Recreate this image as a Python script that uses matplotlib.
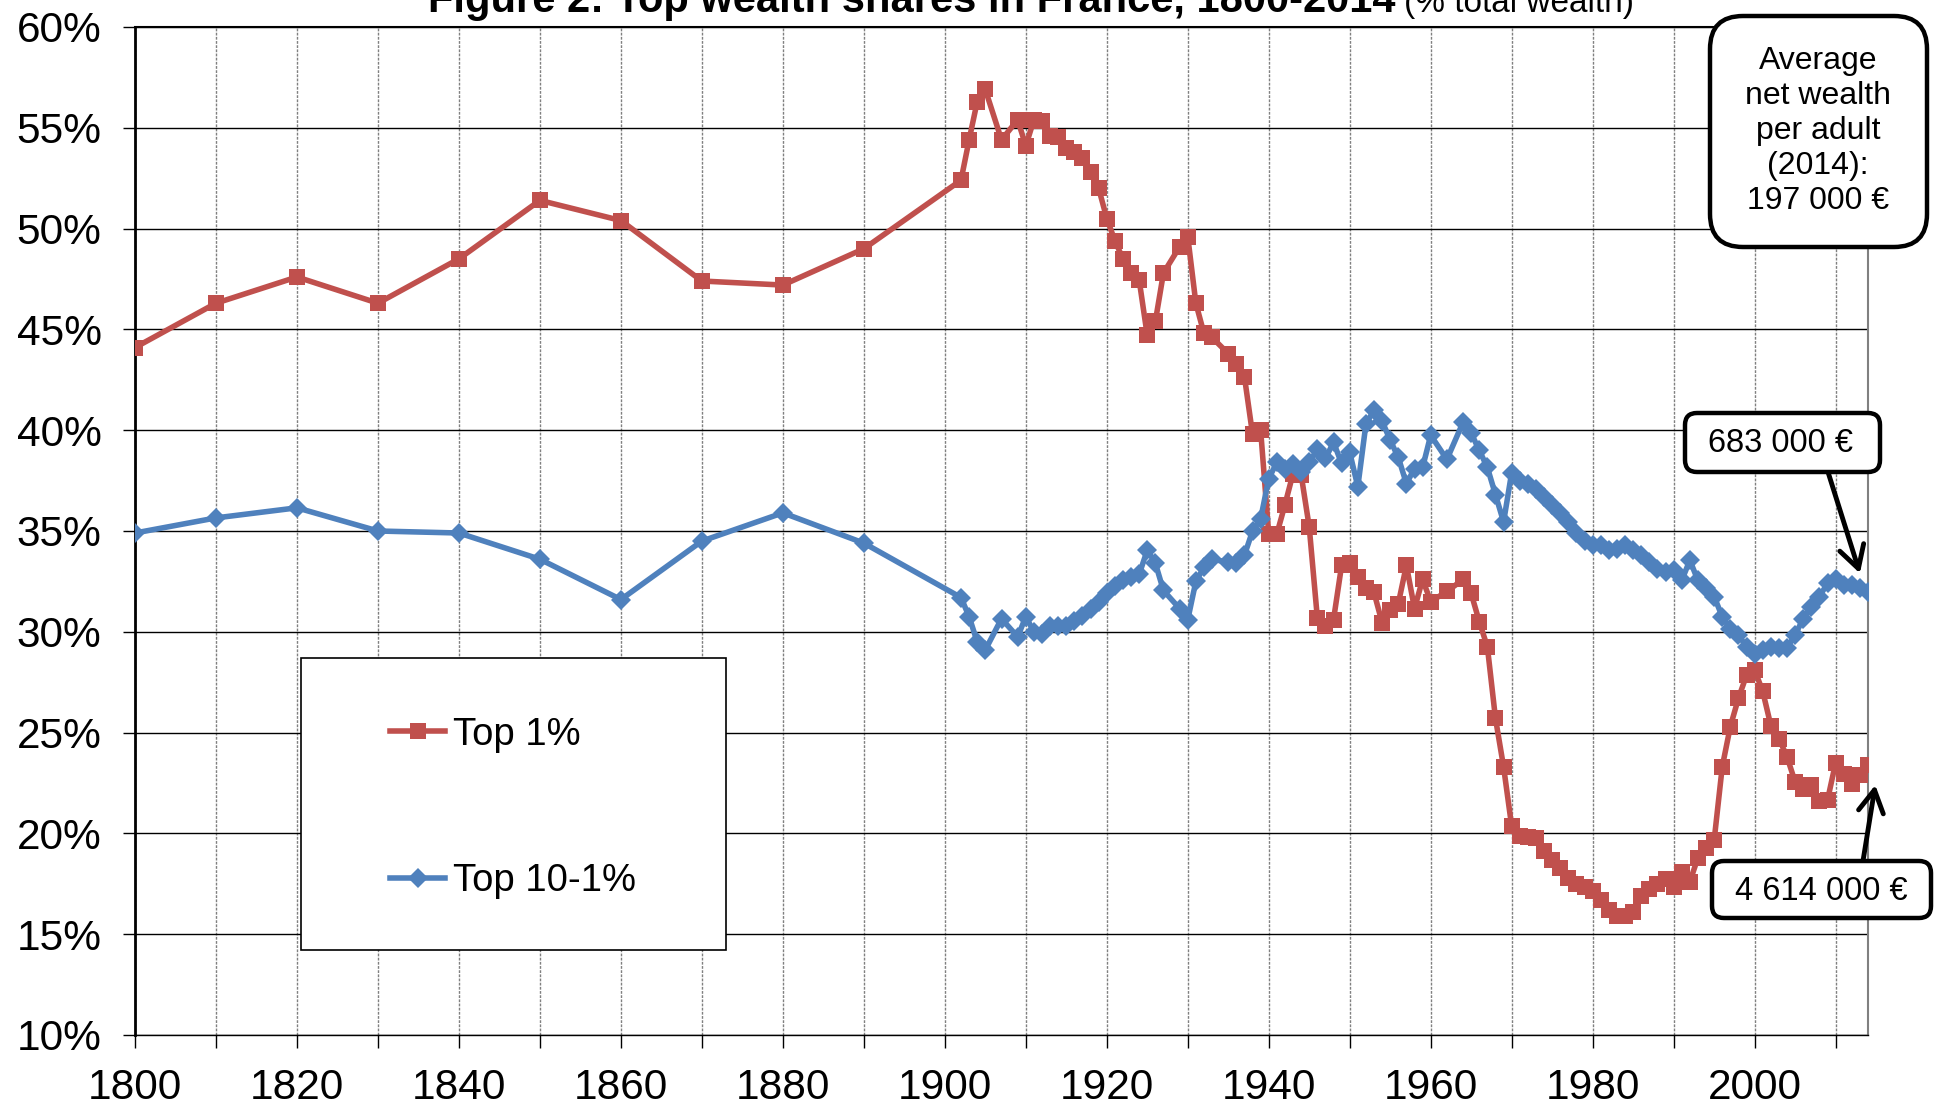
import matplotlib
matplotlib.use("Agg")
import matplotlib.pyplot as plt
from matplotlib.lines import Line2D
from matplotlib.patches import FancyBboxPatch, Rectangle

plt.rcParams['font.family'] = ['Liberation Sans', 'DejaVu Sans']

# Years of observation (decennial before 1900, then annual with some gaps)
years = [1800, 1810, 1820, 1830, 1840, 1850, 1860, 1870, 1880, 1890,
         1902, 1903, 1904, 1905, 1907, 1909, 1910, 1911, 1912, 1913,
         1914, 1915, 1916, 1917, 1918, 1919, 1920, 1921, 1922, 1923,
         1924, 1925, 1926, 1927, 1929, 1930, 1931, 1932, 1933, 1935,
         1936, 1937, 1938, 1939, 1940, 1941, 1942, 1943, 1944, 1945,
         1946, 1947, 1948, 1949, 1950, 1951, 1952, 1953, 1954, 1955,
         1956, 1957, 1958, 1959, 1960, 1962, 1964, 1965, 1966, 1967,
         1968, 1969, 1970, 1971, 1972, 1973, 1974, 1975, 1976, 1977,
         1978, 1979, 1980, 1981, 1982, 1983, 1984, 1985, 1986, 1987,
         1988, 1989, 1990, 1991, 1992, 1993, 1994, 1995, 1996, 1997,
         1998, 1999, 2000, 2001, 2002, 2003, 2004, 2005, 2006, 2007,
         2008, 2009, 2010, 2011, 2012, 2013, 2014]

# Top 1% wealth share (%)
top1 = [44.1, 46.3, 47.6, 46.3, 48.5, 51.4, 50.4, 47.4, 47.2, 49.0,
        52.4, 54.4, 56.3, 56.9, 54.4, 55.4, 54.1, 55.4, 55.35, 54.6,
        54.55, 54.0, 53.8, 53.5, 52.8, 52.0, 50.5, 49.4, 48.5, 47.8,
        47.45, 44.7, 45.4, 47.8, 49.1, 49.6, 46.3, 44.8, 44.6, 43.8,
        43.3, 42.65, 39.8, 40.0, 34.85, 34.85, 36.3, 37.85, 37.8, 35.2,
        30.7, 30.3, 30.6, 33.3, 33.4, 32.7, 32.15, 31.95, 30.45, 31.1,
        31.4, 33.3, 31.15, 32.6, 31.5, 32.0, 32.6, 31.9, 30.5, 29.25,
        25.7, 23.3, 20.35, 19.85, 19.8, 19.75, 19.15, 18.7, 18.3, 17.8,
        17.5, 17.35, 17.15, 16.7, 16.2, 15.9, 15.9, 16.1, 16.9, 17.25,
        17.5, 17.75, 17.35, 18.1, 17.6, 18.8, 19.3, 19.65, 23.3, 25.3,
        26.7, 27.85, 28.1, 27.05, 25.35, 24.7, 23.8, 22.55, 22.2, 22.4,
        21.6, 21.65, 23.5, 22.95, 22.45, 22.9, 23.4]

# Top 10-1% wealth share (%)
top10_1 = [34.9, 35.65, 36.15, 35.0, 34.9, 33.6, 31.6, 34.5, 35.9, 34.4,
           31.7, 30.75, 29.5, 29.1, 30.65, 29.75, 30.75, 30.0, 29.9, 30.3,
           30.3, 30.3, 30.55, 30.8, 31.15, 31.5, 31.9, 32.25, 32.55, 32.7,
           32.85, 34.05, 33.4, 32.05, 31.15, 30.6, 32.5, 33.2, 33.6, 33.45,
           33.4, 33.8, 35.0, 35.6, 37.6, 38.4, 38.1, 38.3, 37.95, 38.4,
           39.05, 38.6, 39.4, 38.35, 38.9, 37.2, 40.3, 41.0, 40.45, 39.5,
           38.65, 37.35, 38.1, 38.15, 39.75, 38.55, 40.4, 39.85, 39.0, 38.15,
           36.8, 35.45, 37.9, 37.5, 37.35, 37.1, 36.7, 36.3, 35.9, 35.45,
           34.9, 34.5, 34.3, 34.3, 34.05, 34.1, 34.3, 34.05, 33.8, 33.45,
           33.1, 32.95, 33.05, 32.55, 33.55, 32.55, 32.15, 31.75, 30.75, 30.15,
           29.85, 29.25, 28.9, 29.1, 29.25, 29.2, 29.2, 29.85, 30.65, 31.25,
           31.75, 32.4, 32.6, 32.3, 32.3, 32.15, 31.95]

xticks = list(range(1800, 2011, 10))
xlabels = [str(y) if y % 20 == 0 else '' for y in xticks]
yticks = list(range(10, 61, 5))
ylabels = [f"{v}%" for v in yticks]

RED = '#C0504D'
BLUE = '#4F81BD'

W, H = 1937, 1109
fig = plt.figure(figsize=(W / 100, H / 100), dpi=100)
ax = fig.add_axes([135 / W, 1 - 1035 / H, (1868 - 135) / W, (1035 - 27) / H])

red_style = dict(color=RED, lw=4, marker='s', markersize=11, markeredgewidth=0)
blue_style = dict(color=BLUE, lw=4, marker='D', markersize=10, markeredgewidth=0)

ax.plot(years, top1, zorder=3, **red_style)
ax.plot(years, top10_1, zorder=4, **blue_style)

ax.set_xlim(1800, 2014)
ax.set_ylim(10, 60)
ax.set_xticks(xticks)
ax.set_xticklabels(xlabels)
ax.set_yticks(yticks)
ax.set_yticklabels(ylabels)
ax.tick_params(direction='out', length=9, width=1, labelsize=30.5, pad=15)

ax.grid(axis='y', color='black', lw=1.0, zorder=0)
ax.grid(axis='x', color='#808080', lw=1.0, ls=(0, (2, 1)), zorder=0)
ax.set_axisbelow(True)
ax.spines['left'].set_linewidth(2)
ax.spines['top'].set_linewidth(1.5)
ax.spines['bottom'].set_linewidth(1)
ax.spines['right'].set_color('#808080')
ax.spines['right'].set_linewidth(1.5)

inch = fig.dpi_scale_trans


def px(x, y):
    # full-size pixel position (from top-left) -> figure inches
    return x / 100, (H - y) / 100


# Title, cut off at the top edge as in the original
fig.text(*px(1396, 12), "Figure 2: Top wealth shares in France, 1800-2014",
         transform=inch, ha='right', va='baseline', fontsize=30, fontweight='bold')
fig.text(*px(1404, 12), "(% total wealth)", transform=inch,
         ha='left', va='baseline', fontsize=24)

# Legend in a plain rectangular box
ax.add_patch(Rectangle(px(301, 950), 4.25, 2.92, transform=inch,
                       facecolor='white', edgecolor='black', lw=1.2,
                       zorder=5, clip_on=False))
handles = [Line2D([], [], **red_style), Line2D([], [], **blue_style)]
leg = ax.legend(handles, ['Top 1%', 'Top 10-1%'], loc='center',
                bbox_to_anchor=px(513, 808), bbox_transform=inch,
                frameon=False, fontsize=27.5, labelspacing=2.9,
                handlelength=1.45, handletextpad=0.2, numpoints=1)
leg.set_zorder(6)


def rounded_box(x0, y0, x1, y1, r):
    fig.patches.append(FancyBboxPatch(px(x0, y1), (x1 - x0) / 100, (y1 - y0) / 100,
                                      boxstyle=f'round,pad=0,rounding_size={r}',
                                      transform=inch, facecolor='white',
                                      edgecolor='black', lw=3.2, zorder=7))


rounded_box(1710, 16, 1927, 247, 0.33)
fig.text(*px(1818, 131), "Average\nnet wealth\nper adult\n(2014):\n197 000 \u20ac",
         transform=inch, ha='center', va='center', multialignment='center',
         fontsize=23, linespacing=1.22, zorder=8)

rounded_box(1685, 413, 1880, 472, 0.12)
fig.text(*px(1781, 444), "683 000 \u20ac", transform=inch, ha='center',
         va='center', fontsize=23.5, zorder=8)

rounded_box(1712, 861, 1931, 918, 0.12)
fig.text(*px(1821, 891), "4 614 000 \u20ac", transform=inch, ha='center',
         va='center', fontsize=23.5, zorder=8)

arrow = dict(arrowstyle='->,head_length=0.8,head_width=0.45', lw=3.5,
             color='black', shrinkA=0, shrinkB=0, mutation_scale=20)
ax.annotate('', xy=(2013.0, 32.9), xytext=px(1828, 472), textcoords=inch,
            arrowprops=arrow, annotation_clip=False)
ax.annotate('', xy=(2014.9, 22.4), xytext=px(1863, 861), textcoords=inch,
            arrowprops=arrow, annotation_clip=False)

fig.savefig("out.png", dpi=100)
